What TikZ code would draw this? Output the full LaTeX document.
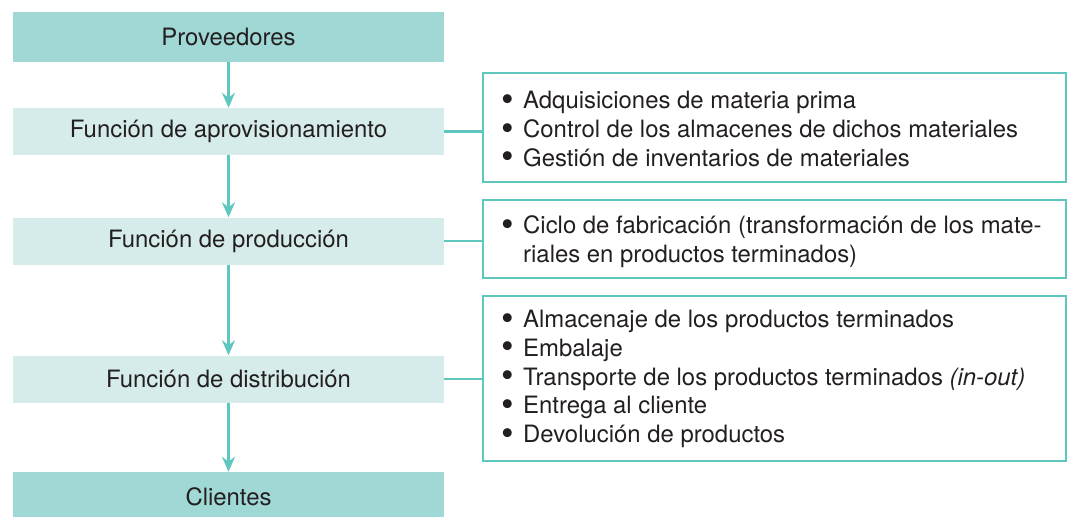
\documentclass[tikz,border=0pt]{standalone}
\usepackage{fontspec}
\usepackage{graphicx}
\setmainfont{TeX Gyre Heros}
\usetikzlibrary{arrows.meta}
\definecolor{tealdark}{HTML}{A0D8D5}
\definecolor{teallight}{HTML}{D6ECEA}
\definecolor{tealline}{HTML}{5EC8BF}
\definecolor{txt}{HTML}{231F20}
\newcommand{\blt}{\makebox[22pt][l]{\smash{\raisebox{-2.5pt}{\scalebox{1.5}{\textbullet}}}}}
\newcommand{\nob}{\hspace*{22pt}}
\begin{document}
\begin{tikzpicture}
[x=1pt,y=-1pt,>={Stealth[length=15pt,width=13pt]},
 font=\fontsize{23.9}{28.7}\selectfont, text=txt,
 endbox/.style = {fill=tealdark, minimum width=431pt, minimum height=50pt, inner sep=0pt},
 funcbox/.style = {fill=teallight, minimum width=431pt, minimum height=47pt, inner sep=0pt},
 listbox/.style = {draw=tealline, line width=2.5pt, minimum width=583pt, inner sep=0pt},
 listtext/.style = {anchor=west, align=left, inner sep=0pt},
 link/.style = {draw=tealline, line width=2.5pt},]
\clip (0,0) rectangle (1069,517);
\node (prov) at (228.5,37)[endbox] {Proveedores};
\node (aprov) at (228.5,131.5)[funcbox] {Función de aprovisionamiento};
\node (prod) at (228.5,241)[funcbox] {Función de producción};
\node (dist) at (228.5,379)[funcbox] {Función de distribución};
\node (cli) at (228.5,497)[endbox] {Clientes};
\node (lista) at (774.5,127.5)[listbox, minimum height=109pt] {};
\node (listb) at (774.5,239)[listbox, minimum height=78pt] {};
\node (listc) at (774.5,378.5)[listbox, minimum height=165pt] {};
\node (texta) at (501,129)[listtext] {\blt Adquisiciones de materia prima\\
  \blt Control de los almacenes de dichos materiales\\
  \blt Gestión de inventarios de materiales};
\node (textb) at (501,242)[listtext] {\blt Ciclo de fabricación (transformación de los mate-\\
  \nob riales en productos terminados)};
\node (textc) at (501,379)[listtext] {\blt Almacenaje de los productos terminados\\
  \blt Embalaje\\
  \blt Transporte de los productos terminados \textit{(in-out)}\\
  \blt Entrega al cliente\\
  \blt Devolución de productos};
\draw[link,->] (prov) -- (aprov);
\draw[link,->] (aprov) -- (prod);
\draw[link,->] (prod) -- (dist);
\draw[link,->] (dist) -- (cli);
\draw[link] (aprov.east) -- (aprov.east -| lista.west);
\draw[link] (prod.east) -- (prod.east -| listb.west);
\draw[link] (dist.east) -- (dist.east -| listc.west);

\end{tikzpicture}
\end{document}
